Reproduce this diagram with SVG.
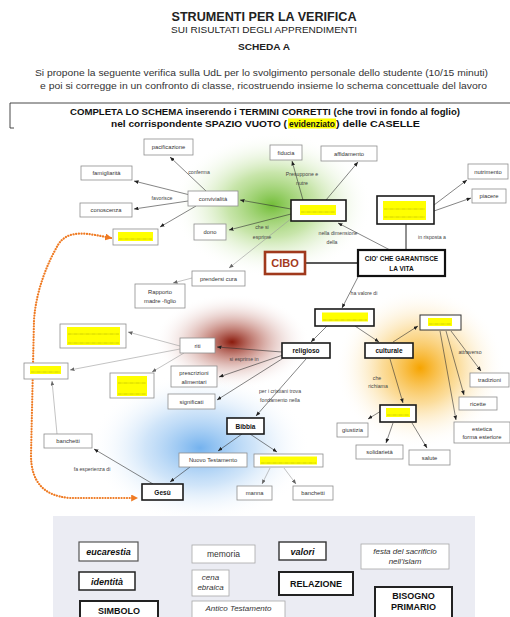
<svg xmlns="http://www.w3.org/2000/svg" width="510" height="617" viewBox="0 0 510 617">
<style>
  text { font-family: "Liberation Sans", Arial, sans-serif; }
  .hd { fill:#222; text-anchor:middle; }
  .n { fill:#fff; stroke:#8e8e8e; stroke-width:0.8; }
  .nk { fill:#fff; stroke:#1a1a1a; stroke-width:1.6; }
  .nt { font-size:5.8px; fill:#333; text-anchor:middle; }
  .bt { font-size:6.5px; font-weight:bold; fill:#111; text-anchor:middle; }
  .lb { font-size:5.2px; fill:#444; text-anchor:middle; }
  .y { fill:#ffff00; }
  .yd { stroke:#6a6a00; stroke-width:0.5; stroke-dasharray:0.6 0.6; fill:none; }
  .c { stroke:#333; stroke-width:0.6; fill:none; marker-end:url(#ah); }
  .cg { stroke:#9a9a9a; stroke-width:0.6; fill:none; marker-end:url(#ahg); }
  .w { fill:#fff; stroke:#a8a8a8; stroke-width:0.8; }
  .wk { fill:#fff; stroke:#222; stroke-width:2; }
  .wt { font-size:8.5px; fill:#333; text-anchor:middle; }
  .wi { font-size:8px; font-style:italic; fill:#333; text-anchor:middle; }
  .wb { font-size:9px; font-style:italic; font-weight:bold; fill:#111; text-anchor:middle; }
  .wc { font-size:9px; font-weight:bold; fill:#111; text-anchor:middle; }
</style>
<defs>
  <marker id="ah" viewBox="0 0 6 5" refX="6" refY="2.5" markerWidth="4.5" markerHeight="3.75" markerUnits="userSpaceOnUse" orient="auto">
    <path d="M0,0 L6,2.5 L0,5 z" fill="#222"/>
  </marker>
  <marker id="ahg" viewBox="0 0 6 5" refX="6" refY="2.5" markerWidth="4.5" markerHeight="3.75" markerUnits="userSpaceOnUse" orient="auto">
    <path d="M0,0 L6,2.5 L0,5 z" fill="#666"/>
  </marker>
  <marker id="ao" viewBox="0 0 6 6" refX="5" refY="3" markerWidth="7" markerHeight="7" markerUnits="userSpaceOnUse" orient="auto-start-reverse">
    <path d="M0,0 L6,3 L0,6 z" fill="#ef7a22"/>
  </marker>
  <radialGradient id="gGreen">
    <stop offset="0" stop-color="#72bd38" stop-opacity="1"/>
    <stop offset="0.45" stop-color="#a3d472" stop-opacity="0.6"/>
    <stop offset="1" stop-color="#ffffff" stop-opacity="0"/>
  </radialGradient>
  <radialGradient id="gRed">
    <stop offset="0" stop-color="#8a1a0c" stop-opacity="1"/>
    <stop offset="0.35" stop-color="#b0574a" stop-opacity="0.6"/>
    <stop offset="1" stop-color="#ffffff" stop-opacity="0"/>
  </radialGradient>
  <radialGradient id="gOrange">
    <stop offset="0" stop-color="#f6a400" stop-opacity="1"/>
    <stop offset="0.45" stop-color="#f9c65a" stop-opacity="0.6"/>
    <stop offset="1" stop-color="#ffffff" stop-opacity="0"/>
  </radialGradient>
  <radialGradient id="gBlue">
    <stop offset="0" stop-color="#74b2ee" stop-opacity="1"/>
    <stop offset="0.5" stop-color="#b0d3f5" stop-opacity="0.6"/>
    <stop offset="1" stop-color="#ffffff" stop-opacity="0"/>
  </radialGradient>
</defs>

<rect width="510" height="617" fill="#fff"/>

<!-- header -->
<g id="header">
  <text class="hd" x="264" y="21" font-size="12.5" font-weight="bold" textLength="185" lengthAdjust="spacingAndGlyphs">STRUMENTI PER LA VERIFICA</text>
  <text class="hd" x="264" y="33" font-size="8.5" textLength="186" lengthAdjust="spacingAndGlyphs">SUI RISULTATI DEGLI APPRENDIMENTI</text>
  <text class="hd" x="264" y="50" font-size="9.5" font-weight="bold" textLength="52" lengthAdjust="spacingAndGlyphs">SCHEDA A</text>
  <text x="35" y="76" font-size="9.5" fill="#333" textLength="453" lengthAdjust="spacingAndGlyphs">Si propone la seguente verifica sulla UdL per lo svolgimento personale dello studente (10/15 minuti)</text>
  <text x="40" y="89" font-size="9.5" fill="#333" textLength="447" lengthAdjust="spacingAndGlyphs">e poi si corregge in un confronto di classe, ricostruendo insieme lo schema concettuale del lavoro</text>
  <path d="M510,103 H10 V128 H14" fill="none" stroke="#333" stroke-width="0.9"/>
  <text x="70" y="115" font-size="9.3" font-weight="bold" fill="#111" textLength="390" lengthAdjust="spacingAndGlyphs">COMPLETA LO SCHEMA inserendo i TERMINI CORRETTI (che trovi in fondo al foglio)</text>
  <rect x="288" y="118.5" width="48" height="10" fill="#ffff00"/>
  <text x="111" y="127" font-size="9.3" font-weight="bold" fill="#111" textLength="176" lengthAdjust="spacingAndGlyphs">nel corrispondente SPAZIO VUOTO (</text>
  <text x="289" y="127" font-size="9.3" font-weight="bold" fill="#111" textLength="46" lengthAdjust="spacingAndGlyphs">evidenziato</text>
  <text x="336" y="127" font-size="9.3" font-weight="bold" fill="#111" textLength="84" lengthAdjust="spacingAndGlyphs">) delle CASELLE</text>
</g>

<!-- coloured haloes behind the map -->
<g id="haloes">
  <ellipse cx="272" cy="205" rx="100" ry="72" fill="url(#gGreen)"/>
  <ellipse cx="200" cy="448" rx="110" ry="75" fill="url(#gBlue)"/>
  <ellipse cx="420" cy="368" rx="85" ry="80" fill="url(#gOrange)"/>
  <ellipse cx="232" cy="342" rx="78" ry="48" fill="url(#gRed)"/>
</g>

<!-- connectors -->
<g id="connectors">
  <line class="c" x1="206" y1="191" x2="170" y2="157"/>
  <line class="c" x1="190" y1="195" x2="134" y2="181"/>
  <line class="c" x1="188" y1="201" x2="134" y2="209"/>
  <line class="c" x1="196" y1="206" x2="160" y2="227"/>
  <line class="c" x1="291" y1="209" x2="240" y2="200"/>
  <line class="c" x1="291" y1="214" x2="229" y2="230"/>
  <line class="c" x1="303" y1="200" x2="292" y2="161"/>
  <line class="c" x1="326" y1="200" x2="358" y2="162"/>
  <line class="cg" x1="292" y1="218" x2="229" y2="268"/>
  <line class="c" x1="390" y1="250" x2="338" y2="223"/>
  <line class="c" x1="434" y1="205" x2="467" y2="180"/>
  <line class="c" x1="434" y1="211" x2="471" y2="198"/>
  <line x1="406" y1="224" x2="406" y2="250" stroke="#222" stroke-width="1"/>
  <line x1="305" y1="263" x2="358" y2="263" stroke="#222" stroke-width="1.6"/>
  <line class="cg" x1="192" y1="278" x2="173" y2="283"/>
  <line class="c" x1="358" y1="277" x2="342" y2="308"/>
  <line class="c" x1="327" y1="326" x2="311" y2="342"/>
  <line class="c" x1="355" y1="326" x2="379" y2="342"/>
  <line class="c" x1="393" y1="342" x2="418" y2="326"/>
  <line class="c" x1="451" y1="331" x2="481" y2="371"/>
  <line class="c" x1="446" y1="331" x2="464" y2="395"/>
  <line class="c" x1="440" y1="331" x2="456" y2="420"/>
  <line class="c" x1="390" y1="359" x2="403" y2="403"/>
  <line class="c" x1="381" y1="411" x2="368" y2="419"/>
  <line class="c" x1="393" y1="423" x2="386" y2="443"/>
  <line class="c" x1="412" y1="423" x2="427" y2="448"/>
  <line class="c" x1="282" y1="352" x2="217" y2="347"/>
  <line class="c" x1="283" y1="355" x2="219" y2="377"/>
  <line class="c" x1="285" y1="357" x2="217" y2="400"/>
  <line class="c" x1="306" y1="359" x2="256" y2="416"/>
  <line class="cg" x1="180" y1="346" x2="128" y2="332"/>
  <line class="cg" x1="180" y1="349" x2="70" y2="370"/>
  <line class="cg" x1="184" y1="353" x2="152" y2="372"/>
  <line class="c" x1="242" y1="434" x2="218" y2="451"/>
  <line class="c" x1="250" y1="434" x2="277" y2="452"/>
  <line class="cg" x1="270" y1="468" x2="262" y2="484"/>
  <line class="cg" x1="284" y1="468" x2="296" y2="484"/>
  <line class="c" x1="190" y1="467" x2="170" y2="482"/>
  <line class="c" x1="153" y1="484" x2="94" y2="449"/>
  <line class="cg" x1="57" y1="434" x2="52" y2="381"/>
  <path d="M111,238 C90,234 68,228 58,245 C48,262 36,290 34,320 L31,455 C31,480 42,496 70,498 L137,498" fill="none" stroke="#ef7a22" stroke-width="2.2" stroke-linecap="round" stroke-dasharray="0.1 2.6" marker-start="url(#ao)" marker-end="url(#ao)"/>
</g>

<!-- connector labels -->
<g id="labels">
  <text class="lb" x="199" y="174">conferma</text>
  <text class="lb" x="162" y="200">favorisce</text>
  <text class="lb" x="302" y="176">Presuppone e</text>
  <text class="lb" x="302" y="185">nutre</text>
  <text class="lb" x="262" y="229">che si</text>
  <text class="lb" x="262" y="239">esprime</text>
  <text class="lb" x="338" y="235">nella dimensione</text>
  <text class="lb" x="332" y="244">della</text>
  <text class="lb" x="432" y="239">in risposta a</text>
  <text class="lb" x="364" y="295">ha valore di</text>
  <text class="lb" x="244" y="361">si esprime in</text>
  <text class="lb" x="280" y="393">per i cristiani trova</text>
  <text class="lb" x="280" y="402">fondamento nella</text>
  <text class="lb" x="377" y="380">che</text>
  <text class="lb" x="378" y="388">richiama</text>
  <text class="lb" x="470" y="354">attraverso</text>
  <text class="lb" x="92" y="471">fa esperienza di</text>
</g>

<!-- nodes -->
<g id="pacificazione"><rect class="n" x="144" y="139" width="49" height="16"/><text class="nt" x="168.5" y="149">pacificazione</text></g>
<g id="famigliarita"><rect class="n" x="81" y="166" width="51" height="14"/><text class="nt" x="106.5" y="175">famigliarità</text></g>
<g id="conoscenza"><rect class="n" x="80" y="203" width="52" height="14"/><text class="nt" x="106" y="212">conoscenza</text></g>
<g id="convivialita"><rect class="n" x="188" y="191" width="50" height="15"/><text class="nt" x="213" y="200.5">convivialità</text></g>
<g id="blank-relazione"><rect class="n" x="113" y="229" width="45" height="16"/><rect class="y" x="118" y="232" width="35" height="9"/><line class="yd" x1="119" y1="239" x2="152" y2="239"/></g>
<g id="dono"><rect class="n" x="194" y="224" width="32" height="16"/><text class="nt" x="210" y="234">dono</text></g>
<g id="fiducia"><rect class="n" x="270" y="145" width="32" height="15"/><text class="nt" x="286" y="154.5">fiducia</text></g>
<g id="affidamento"><rect class="n" x="321" y="146" width="56" height="15"/><text class="nt" x="349" y="155.5">affidamento</text></g>
<g id="blank-centre"><rect class="nk" x="291" y="200" width="55" height="21"/><rect class="y" x="300" y="205" width="36" height="10"/><line class="yd" x1="301" y1="212" x2="335" y2="212"/></g>
<g id="blank-bisogno"><rect class="nk" x="377" y="196" width="57" height="28"/><rect class="y" x="383" y="201" width="43" height="19"/><line class="yd" x1="384" y1="209" x2="425" y2="209"/><line class="yd" x1="384" y1="217" x2="425" y2="217"/></g>
<g id="nutrimento"><rect class="n" x="468" y="164" width="40" height="15"/><text class="nt" x="488" y="173.5">nutrimento</text></g>
<g id="piacere"><rect class="n" x="472" y="189" width="34" height="14"/><text class="nt" x="489" y="198">piacere</text></g>
<g id="cibo"><rect x="265" y="252" width="40" height="22" fill="#fff" stroke="#a0391c" stroke-width="2.6"/><text x="285" y="267" font-size="11" font-weight="bold" fill="#a33a1d" text-anchor="middle">CIBO</text></g>
<g id="garantisce"><rect x="358" y="250" width="87" height="26" fill="#fff" stroke="#111" stroke-width="2.2"/><text class="bt" x="401.5" y="261">CIO' CHE GARANTISCE</text><text class="bt" x="401.5" y="271">LA VITA</text></g>
<g id="prendersi-cura"><rect class="n" x="192" y="271" width="53" height="15"/><text class="nt" x="218.5" y="280.5">prendersi cura</text></g>
<g id="rapporto"><rect class="n" x="135" y="284" width="50" height="24"/><text class="nt" x="160" y="294">Rapporto</text><text class="nt" x="160" y="303">madre -figlio</text></g>
<g id="blank-valore"><rect class="nk" x="315" y="309" width="59" height="17"/><rect class="y" x="322" y="312.5" width="46" height="9"/><line class="yd" x1="323" y1="320" x2="367" y2="320"/></g>
<g id="religioso"><rect class="nk" x="282" y="343" width="48" height="15"/><text class="bt" x="306" y="352.5">religioso</text></g>
<g id="culturale"><rect class="nk" x="365" y="343" width="48" height="15"/><text class="bt" x="389" y="352.5">culturale</text></g>
<g id="blank-identita"><rect x="420" y="315" width="41" height="15" fill="#fff" stroke="#333" stroke-width="1"/><rect class="y" x="428" y="318" width="24" height="8"/><line class="yd" x1="429" y1="324" x2="451" y2="324"/></g>
<g id="tradizioni"><rect class="n" x="470" y="373" width="39" height="14"/><text class="nt" x="489.5" y="382">tradizioni</text></g>
<g id="ricette"><rect class="n" x="459" y="397" width="38" height="13"/><text class="nt" x="478" y="405.5">ricette</text></g>
<g id="estetica"><rect class="n" x="454" y="422" width="56" height="21"/><text class="nt" x="482" y="430.5">estetica</text><text class="nt" x="482" y="439">forma esteriore</text></g>
<g id="blank-valori"><rect class="nk" x="380" y="405" width="36" height="17"/><rect class="y" x="386" y="408" width="24" height="9"/><line class="yd" x1="387" y1="415" x2="409" y2="415"/></g>
<g id="giustizia"><rect class="n" x="337" y="423" width="31" height="14"/><text class="nt" x="352.5" y="432">giustizia</text></g>
<g id="solidarieta"><rect class="n" x="356" y="445" width="47" height="14"/><text class="nt" x="379.5" y="454">solidarietà</text></g>
<g id="salute"><rect class="n" x="409" y="450" width="41" height="15"/><text class="nt" x="429.5" y="459.5">salute</text></g>
<g id="riti"><rect class="n" x="180" y="338" width="35" height="15"/><text class="nt" x="197.5" y="347.5">riti</text></g>
<g id="blank-festa"><rect class="n" x="60" y="324" width="66" height="24"/><rect class="y" x="67" y="327" width="53" height="18"/><line class="yd" x1="68" y1="334" x2="119" y2="334"/><line class="yd" x1="68" y1="343" x2="119" y2="343"/></g>
<g id="blank-eucarestia"><rect class="n" x="24" y="363" width="44" height="16"/><rect class="y" x="30" y="366" width="31" height="8"/><line class="yd" x1="31" y1="372" x2="60" y2="372"/></g>
<g id="blank-cena"><rect class="n" x="110" y="373" width="44" height="25"/><rect class="y" x="117" y="376" width="30" height="20"/><line class="yd" x1="118" y1="383" x2="146" y2="383"/><line class="yd" x1="118" y1="394" x2="146" y2="394"/></g>
<g id="prescrizioni"><rect class="n" x="171" y="366" width="46" height="21"/><text class="nt" x="194" y="375">prescrizioni</text><text class="nt" x="194" y="383.5">alimentari</text></g>
<g id="significati"><rect class="n" x="168" y="394" width="47" height="15"/><text class="nt" x="191.5" y="403.5">significati</text></g>
<g id="bibbia"><rect class="nk" x="227" y="418" width="37" height="16"/><text class="bt" x="245.5" y="428.5">Bibbia</text></g>
<g id="nuovo-testamento"><rect class="n" x="179" y="453" width="68" height="14"/><text class="nt" x="213" y="462">Nuovo Testamento</text></g>
<g id="blank-antico"><rect class="n" x="254" y="454" width="69" height="13"/><rect class="y" x="260" y="456.5" width="57" height="8"/><line class="yd" x1="261" y1="463" x2="316" y2="463"/></g>
<g id="manna"><rect class="n" x="237" y="486" width="35" height="14"/><text class="nt" x="254.5" y="495">manna</text></g>
<g id="banchetti-at"><rect class="n" x="293" y="486" width="40" height="14"/><text class="nt" x="313" y="495">banchetti</text></g>
<g id="gesu"><rect class="nk" x="142" y="484" width="41" height="16"/><text class="bt" x="162.5" y="494.5">Gesù</text></g>
<g id="banchetti-gesu"><rect class="n" x="44" y="434" width="48" height="14"/><text class="nt" x="68" y="443">banchetti</text></g>

<!-- word bank -->
<g id="word-bank">
  <rect x="53" y="516" width="422" height="101" fill="#ebecf3"/>
  <g id="w-eucarestia"><rect x="79" y="542" width="59" height="19" fill="#fff" stroke="#555" stroke-width="1.2"/><text class="wb" x="108.5" y="555">eucarestia</text></g>
  <g id="w-identita"><rect x="79" y="572" width="56" height="18" fill="#fff" stroke="#222" stroke-width="1.5"/><text class="wb" x="107" y="584.5">identità</text></g>
  <g id="w-simbolo"><rect class="wk" x="80" y="601" width="78" height="20"/><text class="wc" x="119" y="614" font-size="9.5">SIMBOLO</text></g>
  <g id="w-memoria"><rect class="w" x="192" y="545" width="63" height="18"/><text class="wt" x="223.5" y="557">memoria</text></g>
  <g id="w-cena"><rect class="w" x="192" y="570" width="37" height="26"/><text class="wi" x="210.5" y="580">cena</text><text class="wi" x="210.5" y="590">ebraica</text></g>
  <g id="w-antico"><rect class="w" x="192" y="601" width="93" height="20"/><text class="wi" x="238.5" y="611">Antico Testamento</text></g>
  <g id="w-valori"><rect x="279" y="542" width="47" height="18" fill="#fff" stroke="#333" stroke-width="1.4"/><text class="wb" x="302.5" y="554.5">valori</text></g>
  <g id="w-relazione"><rect class="wk" x="279" y="572" width="74" height="23"/><text class="wc" x="316" y="587">RELAZIONE</text></g>
  <g id="w-festa"><rect class="w" x="361" y="544" width="88" height="25"/><text class="wi" x="405" y="554">festa del  sacrificio</text><text class="wi" x="405" y="564">nell'islam</text></g>
  <g id="w-bisogno"><rect class="wk" x="375" y="587" width="77" height="34"/><text class="wc" x="413.5" y="599" font-size="8.8">BISOGNO</text><text class="wc" x="413.5" y="610" font-size="8.8">PRIMARIO</text></g>
</g>
</svg>
